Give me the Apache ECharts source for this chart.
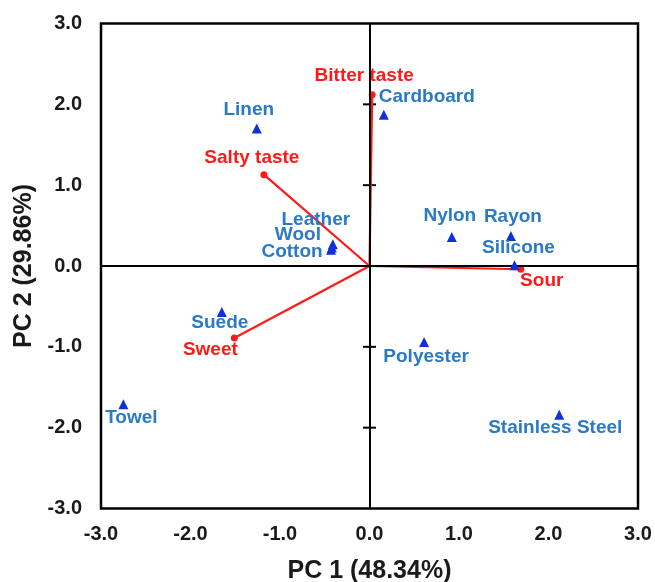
<!DOCTYPE html>
<html><head><meta charset="utf-8">
<script src="https://cdn.jsdelivr.net/npm/echarts@6/dist/echarts.min.js"></script>
<style>html,body{margin:0;padding:0;background:#fff}#c{width:655px;height:582px}</style>
</head><body><div id="c"></div>
<script>
const materials = ['Linen','Cardboard','Nylon','Rayon','Silicone','Leather','Wool','Cotton','Suede','Towel','Polyester','Stainless Steel'];
const materialPC1 = [-1.26, 0.16, 0.92, 1.58, 1.62, -0.41, -0.42, -0.43, -1.65, -2.75, 0.61, 2.12];
const materialPC2 = [1.70, 1.87, 0.36, 0.37, 0.01, 0.27, 0.23, 0.20, -0.57, -1.71, -0.94, -1.84];
const attributes = ['Bitter taste','Salty taste','Sour','Sweet'];
const attributePC1 = [0.03, -1.18, 1.69, -1.51];
const attributePC2 = [2.12, 1.13, -0.04, -0.89];
const axisMin = -3, axisMax = 3, axisStep = 1;
const centerTicks = [-2, -1, 1, 2];
const xTitle = 'PC 1 (48.34%)';
const yTitle = 'PC 2 (29.86%)';

// label offsets in px (style only)
const materialLabelOffset = [[-8,-19],[43,-18],[-2,-21],[2,-19],[4,-17],[-17,-24],[-34,-13],[-39,2],[-2,11],[8,14],[2,15],[-4,13]];
const attributeLabelOffset = [[-8,-19],[-12,-17],[21,12],[-24,12]];

const FONT = '"Liberation Sans", Arial, sans-serif';
const BLUE_TXT = '#2a7ac6';
const BLUE_MK = '#1030d8';
const RED = '#ff1a1a';

const chart = echarts.init(document.getElementById('c'), null, {renderer: 'canvas'});

const vectorSeries = attributes.map((a, i) => ({
  type: 'line',
  data: [[0, 0], [attributePC1[i], attributePC2[i]]],
  showSymbol: false,
  symbol: 'none',
  lineStyle: {color: RED, width: 2.2, opacity: 1},
  z: 3,
  silent: true,
  animation: false
}));

const option = {
  animation: false,
  grid: {left: 101, right: 17, top: 23.5, bottom: 73.5, show: true, borderColor: '#000', borderWidth: 2.5, backgroundColor: 'transparent', containLabel: false, outerBoundsMode: 'none'},
  xAxis: {
    type: 'value', min: axisMin, max: axisMax, interval: axisStep,
    axisLine: {show: false}, axisTick: {show: false}, splitLine: {show: false},
    axisLabel: {formatter: v => v.toFixed(1), fontSize: 20, fontWeight: 'bold', color: '#1a1a1a', margin: 16, fontFamily: FONT},
    name: xTitle, nameLocation: 'middle', nameGap: 50,
    nameTextStyle: {fontSize: 25, fontWeight: 'bold', color: '#1a1a1a', fontFamily: FONT}
  },
  yAxis: {
    type: 'value', min: axisMin, max: axisMax, interval: axisStep,
    axisLine: {show: false}, axisTick: {show: false}, splitLine: {show: false},
    axisLabel: {formatter: v => v.toFixed(1), fontSize: 20, fontWeight: 'bold', color: '#1a1a1a', margin: 19, fontFamily: FONT},
    name: yTitle, nameLocation: 'middle', nameGap: 61,
    nameTextStyle: {fontSize: 25, fontWeight: 'bold', color: '#1a1a1a', fontFamily: FONT}
  },
  series: [
    {
      type: 'scatter',
      data: centerTicks.map(v => [0, v]),
      symbol: 'rect', symbolSize: [13, 2],
      itemStyle: {color: '#000', opacity: 1},
      z: 2, silent: true,
      markLine: {
        silent: true, symbol: 'none', animation: false,
        label: {show: false},
        lineStyle: {color: '#000', width: 2, type: 'solid', opacity: 1},
        data: [{xAxis: 0}, {yAxis: 0}]
      }
    },
    ...vectorSeries,
    {
      type: 'scatter',
      data: attributes.map((a, i) => ({
        name: a,
        value: [attributePC1[i], attributePC2[i]],
        label: {offset: attributeLabelOffset[i]}
      })),
      symbol: 'circle', symbolSize: 7,
      itemStyle: {color: RED, opacity: 1},
      label: {show: true, position: 'inside', formatter: p => p.name, color: RED, fontSize: 19, fontWeight: 'bold', fontFamily: FONT, align: 'center', verticalAlign: 'middle'},
      z: 4, silent: true
    },
    {
      type: 'scatter',
      data: materials.map((m, i) => ({
        name: m,
        value: [materialPC1[i], materialPC2[i]],
        label: {offset: materialLabelOffset[i]}
      })),
      symbol: 'triangle', symbolSize: 10,
      itemStyle: {color: BLUE_MK, opacity: 1},
      label: {show: true, position: 'inside', formatter: p => p.name, color: BLUE_TXT, fontSize: 19, fontWeight: 'bold', fontFamily: FONT, align: 'center', verticalAlign: 'middle'},
      z: 5, silent: true
    }
  ]
};
chart.setOption(option);
</script>
</body></html>
